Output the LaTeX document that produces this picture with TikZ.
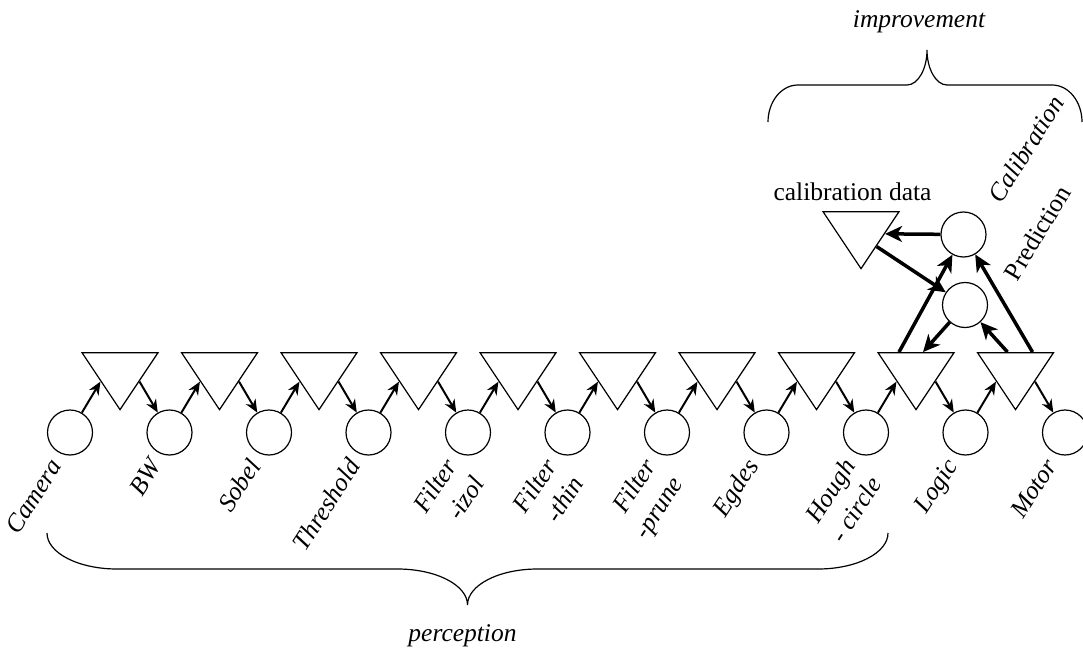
\documentclass[tikz,border=0pt]{standalone}
\usepackage{fontspec}
\setmainfont{Liberation Serif}
\usepackage{tikz}
\usetikzlibrary{shapes,arrows.meta,calc}
\newcommand{\diagfont}{\fontsize{25.5}{32}\selectfont}

\begin{document}
\begin{tikzpicture}[x=1pt,y=1pt,>={Stealth[length=13pt,width=11pt]},font=\diagfont]
    \tikzstyle{circ} = [draw, shape=circle, minimum size=45pt, inner sep=0pt, line width=1.2pt, node distance=99.5pt]
    \tikzstyle{tri} = [draw, shape=isosceles triangle, isosceles triangle stretches, shape border rotate=270, minimum width=76pt, minimum height=57pt, inner sep=0pt, line width=1.2pt, node distance=99.5pt]
    \tikzstyle{tag} = [rotate=57, anchor=base east, align=right, inner sep=0pt, font=\diagfont\itshape]
    \tikzstyle{link} = [->, line width=2pt]
    \tikzstyle{feed} = [-{Stealth[length=17pt,width=16pt,inset=5pt]}, line width=3.5pt]
    \useasboundingbox (0,0) rectangle (1083,649);
    %Creating Stages and Buffers
    \node [circ] at (70,216.5) (camera) {};
    \node [circ, right of=camera] (bw) {};
    \node [circ, right of=bw] (sobel) {};
    \node [circ, right of=sobel] (threshold) {};
    \node [circ, right of=threshold] (filter_izol) {};
    \node [circ, right of=filter_izol] (filter_thin) {};
    \node [circ, right of=filter_thin] (filter_prune) {};
    \node [circ, right of=filter_prune] (egdes) {};
    \node [circ, right of=egdes] (hough) {};
    \node [circ, right of=hough] (logic) {};
    \node [circ, right of=logic] (motor) {};

    \node [tri] at (120,276) (tri_1) {};
    \node [tri, right of=tri_1] (tri_2) {};
    \node [tri, right of=tri_2] (tri_3) {};
    \node [tri, right of=tri_3] (tri_4) {};
    \node [tri, right of=tri_4] (tri_5) {};
    \node [tri, right of=tri_5] (tri_6) {};
    \node [tri, right of=tri_6] (tri_7) {};
    \node [tri, right of=tri_7] (tri_8) {};
    \node [tri, right of=tri_8] (tri_9) {};
    \node [tri, right of=tri_9] (tri_10) {};

    \node [tri] at (861,417) (calib_data) {};
    \node [anchor=base] at (852.5,448) (calib_data_text) {calibration data};
    \node [circ] at (963.5,414.5) (calib) {};
    \node [circ] at (965,344) (predict) {};

    %Stage names
    \node [tag] at ([xshift=-7pt,yshift=-33.5pt]camera) (camera_tag) {Camera};
    \node [tag] at ([xshift=-7pt,yshift=-33.5pt]bw) (bw_tag) {BW};
    \node [tag] at ([xshift=-7pt,yshift=-33.5pt]sobel) (sobel_tag) {Sobel};
    \node [tag] at ([xshift=-7pt,yshift=-33.5pt]threshold) (threshold_tag) {Threshold};
    \node [tag] at ([xshift=17pt,yshift=-51pt]filter_izol) (filter_izol_tag) {Filter\\-izol};
    \node [tag] at ([xshift=17pt,yshift=-51pt]filter_thin) (filter_thin_tag) {Filter\\-thin};
    \node [tag] at ([xshift=17pt,yshift=-51pt]filter_prune) (filter_prune_tag) {Filter\\-prune};
    \node [tag] at ([xshift=-7pt,yshift=-33.5pt]egdes) (egdes_tag) {Egdes};
    \node [tag] at ([xshift=17pt,yshift=-51pt]hough) (hough_tag) {Hough\\- circle};
    \node [tag] at ([xshift=-7pt,yshift=-33.5pt]logic) (logic_tag) {Logic};
    \node [tag] at ([xshift=-7pt,yshift=-33.5pt]motor) (motor_tag) {Motor};
    \node [rotate=58, anchor=base east, inner sep=0pt, font=\diagfont\itshape] at (1065,546) (calib_tag) {Calibration};
    \node [rotate=59, anchor=base east, inner sep=0pt] at (1072,457) (predict_tag) {Prediction};

    \node [anchor=base, font=\diagfont\itshape] at (462.5,7.5) (perception) {perception};
    \node [anchor=base, font=\diagfont\itshape] at (919,621) (improvement) {improvement};

    %Braces
    \begin{scope}[line width=1.2pt]
        \draw (47,116) .. controls (47,96) and (78.5,80) .. (117,80) -- (397.5,80)
            .. controls (436,80) and (467.5,64) .. (467.5,44)
            .. controls (467.5,64) and (499,80) .. (537.5,80) -- (818,80)
            .. controls (856.5,80) and (888,96) .. (888,116);
        \draw (768,527) .. controls (768,547) and (781,564) .. (798,564) -- (907,564)
            .. controls (918,564) and (927,580) .. (927,599)
            .. controls (927,580) and (936,564) .. (947,564) -- (1052,564)
            .. controls (1069,564) and (1082,547) .. (1082,527);
    \end{scope}

    %Connecting Stages
    \draw[link] (camera) -- (tri_1.right side);
    \draw[link] (tri_1.left side) -- (bw);
    \draw[link] (bw) -- (tri_2.right side);
    \draw[link] (tri_2.left side) -- (sobel);
    \draw[link] (sobel) -- (tri_3.right side);
    \draw[link] (tri_3.left side) -- (threshold);
    \draw[link] (threshold) -- (tri_4.right side);
    \draw[link] (tri_4.left side) -- (filter_izol);
    \draw[link] (filter_izol) -- (tri_5.right side);
    \draw[link] (tri_5.left side) -- (filter_thin);
    \draw[link] (filter_thin) -- (tri_6.right side);
    \draw[link] (tri_6.left side) -- (filter_prune);
    \draw[link] (filter_prune) -- (tri_7.right side);
    \draw[link] (tri_7.left side) -- (egdes);
    \draw[link] (egdes) -- (tri_8.right side);
    \draw[link] (tri_8.left side) -- (hough);
    \draw[link] (hough) -- (tri_9.right side);
    \draw[link] (tri_9.left side) -- (logic);
    \draw[link] (logic) -- (tri_10.right side);
    \draw[link] (tri_10.left side) -- (motor);

    \draw[feed] (calib) -- ($(calib_data.left corner)!0.77!(calib_data.left side)$);
    \draw[feed] ($(calib_data.left side)!0.2!(calib_data.apex)$) -- (predict);
    \draw[feed] ([xshift=-17pt]tri_9.lower side) -- (calib);
    \draw[feed] (predict) -- ([xshift=7pt]tri_9.lower side);
    \draw[feed] ([xshift=-8pt]tri_10.lower side) -- (predict);
    \draw[feed] ([xshift=17pt]tri_10.lower side) -- (calib);
\end{tikzpicture}
\end{document}
